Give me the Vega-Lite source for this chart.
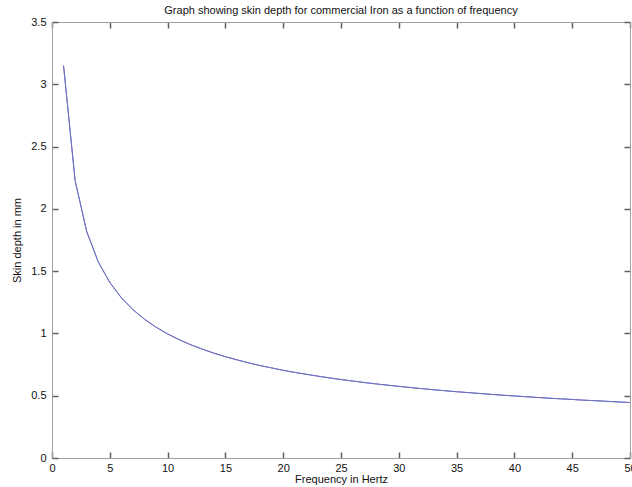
{
  "$schema": "https://vega.github.io/schema/vega-lite/v6.json",
  "width": 578,
  "height": 436,
  "autosize": {"type": "none"},
  "padding": {"left": 52, "top": 22, "right": 2, "bottom": 29},
  "background": "white",
  "title": {
    "text": "Graph showing skin depth for commercial Iron as a function of frequency",
    "font": "Liberation Sans",
    "fontSize": 11,
    "fontWeight": "normal",
    "color": "#111",
    "offset": 0,
    "anchor": "middle"
  },
  "config": {
    "view": {"stroke": "#a0a0a0", "strokeWidth": 1}
  },
  "data": {
    "values": [
      {"f": 1, "d": 3.150}, {"f": 2, "d": 2.227}, {"f": 3, "d": 1.819}, {"f": 4, "d": 1.575},
      {"f": 5, "d": 1.409}, {"f": 6, "d": 1.286}, {"f": 7, "d": 1.191}, {"f": 8, "d": 1.114},
      {"f": 9, "d": 1.050}, {"f": 10, "d": 0.996}, {"f": 11, "d": 0.950}, {"f": 12, "d": 0.909},
      {"f": 13, "d": 0.874}, {"f": 14, "d": 0.842}, {"f": 15, "d": 0.813}, {"f": 16, "d": 0.788},
      {"f": 17, "d": 0.764}, {"f": 18, "d": 0.742}, {"f": 19, "d": 0.723}, {"f": 20, "d": 0.704},
      {"f": 21, "d": 0.687}, {"f": 22, "d": 0.672}, {"f": 23, "d": 0.657}, {"f": 24, "d": 0.643},
      {"f": 25, "d": 0.630}, {"f": 26, "d": 0.618}, {"f": 27, "d": 0.606}, {"f": 28, "d": 0.595},
      {"f": 29, "d": 0.585}, {"f": 30, "d": 0.575}, {"f": 31, "d": 0.566}, {"f": 32, "d": 0.557},
      {"f": 33, "d": 0.548}, {"f": 34, "d": 0.540}, {"f": 35, "d": 0.532}, {"f": 36, "d": 0.525},
      {"f": 37, "d": 0.518}, {"f": 38, "d": 0.511}, {"f": 39, "d": 0.504}, {"f": 40, "d": 0.498},
      {"f": 41, "d": 0.492}, {"f": 42, "d": 0.486}, {"f": 43, "d": 0.480}, {"f": 44, "d": 0.475},
      {"f": 45, "d": 0.470}, {"f": 46, "d": 0.464}, {"f": 47, "d": 0.460}, {"f": 48, "d": 0.455},
      {"f": 49, "d": 0.450}, {"f": 50, "d": 0.445}
    ]
  },
  "layer": [
    {
      "mark": {"type": "line", "color": "#6f6fc4", "strokeWidth": 1},
      "encoding": {
        "x": {
          "field": "f", "type": "quantitative",
          "scale": {"domain": [0, 50]},
          "axis": {
            "grid": false,
            "title": "Frequency in Hertz",
            "tickCount": 10,
            "tickSize": -6,
            "tickWidth": 1.5,
            "tickColor": "#606060",
            "domainColor": "#a0a0a0",
            "labelPadding": 10,
            "titlePadding": 0,
            "labelFont": "Liberation Sans",
            "labelFontSize": 11,
            "labelColor": "#111",
            "titleFont": "Liberation Sans",
            "titleFontSize": 11,
            "titleFontWeight": "normal",
            "titleColor": "#111",
            "labelFlush": false,
            "labelOverlap": false
          }
        },
        "y": {
          "field": "d", "type": "quantitative",
          "scale": {"domain": [0, 3.5]},
          "axis": {
            "grid": false,
            "title": "Skin depth in mm",
            "format": ".1~f",
            "tickCount": 7,
            "tickSize": -6,
            "tickWidth": 1.5,
            "tickColor": "#606060",
            "domainColor": "#a0a0a0",
            "labelPadding": 12,
            "titlePadding": 8,
            "labelFont": "Liberation Sans",
            "labelFontSize": 11,
            "labelColor": "#111",
            "titleFont": "Liberation Sans",
            "titleFontSize": 11,
            "titleFontWeight": "normal",
            "titleColor": "#111",
            "labelFlush": false,
            "labelOverlap": false
          }
        }
      }
    },
    {
      "mark": {"type": "line", "color": "#6f6fc4", "strokeWidth": 1},
      "encoding": {
        "x": {
          "field": "f", "type": "quantitative",
          "scale": {"domain": [0, 50]},
          "axis": {
            "orient": "top",
            "grid": false,
            "title": null,
            "labels": false,
            "tickCount": 10,
            "tickSize": -6,
            "tickWidth": 1.5,
            "tickColor": "#606060",
            "domainColor": "#a0a0a0"
          }
        },
        "y": {
          "field": "d", "type": "quantitative",
          "scale": {"domain": [0, 3.5]},
          "axis": {
            "orient": "right",
            "grid": false,
            "title": null,
            "labels": false,
            "tickCount": 7,
            "tickSize": -6,
            "tickWidth": 1.5,
            "tickColor": "#606060",
            "domainColor": "#a0a0a0"
          }
        }
      }
    }
  ],
  "resolve": {"axis": {"x": "independent", "y": "independent"}}
}
